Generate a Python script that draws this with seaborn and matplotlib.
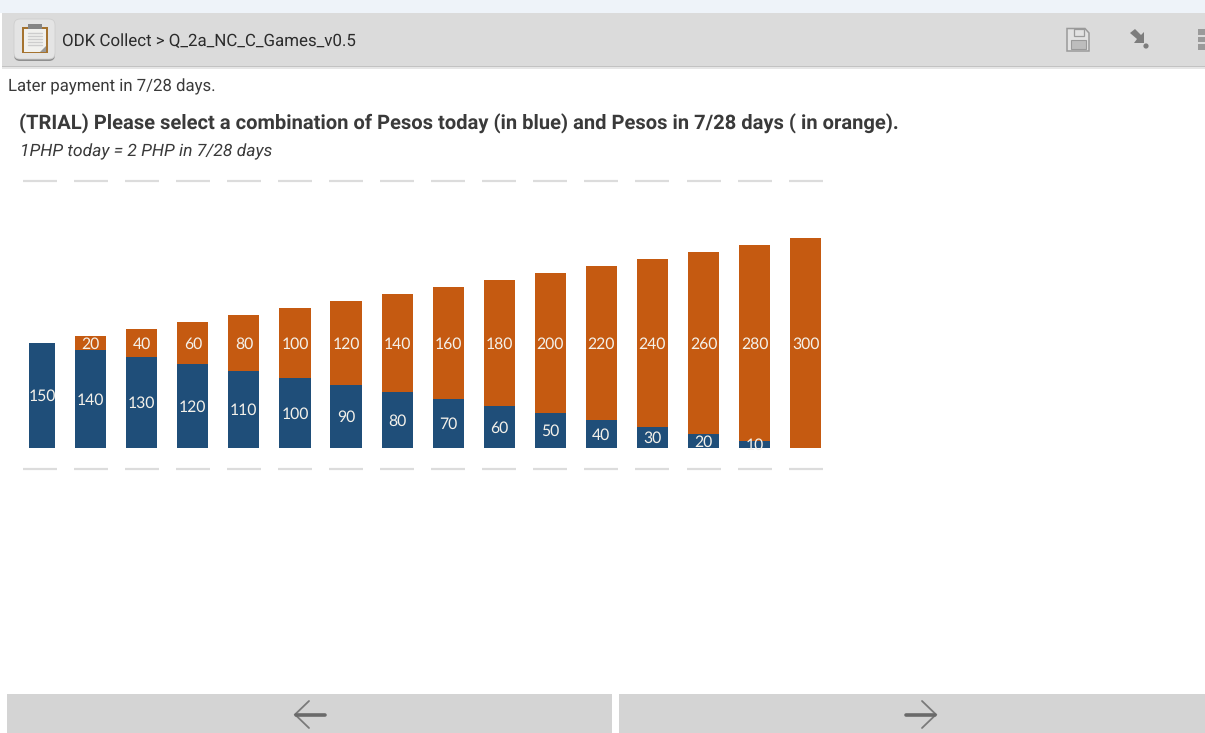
import matplotlib
matplotlib.use("Agg")
import matplotlib.pyplot as plt
from matplotlib.patches import FancyBboxPatch, Rectangle, Polygon, Circle
import numpy as np
import seaborn as sns

# Pesos today / pesos later for each option on the screen
option_ids = list(range(16))
pesos_today = [150, 140, 130, 120, 110, 100, 90, 80, 70, 60, 50, 40, 30, 20, 10, 0]
pesos_later = [0, 20, 40, 60, 80, 100, 120, 140, 160, 180, 200, 220, 240, 260, 280, 300]

BLUE = "#1f4e79"
ORANGE = "#c55a11"
LABEL = "#f4f1ea"
GRID = "#dcdcdc"
TEXT = "#3a3a3a"

W, H = 1205, 733
sns.set_theme(style="white")
plt.rcParams["font.family"] = ["Roboto", "DejaVu Sans"]
plt.rcParams["text.hinting"] = "no_hinting"

fig = plt.figure(figsize=(W / 100, H / 100), dpi=100, facecolor="white")

# Full-figure layer in pixel units for the app screen furniture
ui = fig.add_axes([0, 0, 1, 1], zorder=0)
ui.set_xlim(0, W)
ui.set_ylim(H, 0)
ui.set_axis_off()

ui.add_patch(Rectangle((0, 0), W, 13, color="#eef3f9", lw=0))
ui.add_patch(Rectangle((2, 13), W - 2, 53, color="#dbdbdb", lw=0))
ui.add_patch(Rectangle((2, 65.5), W - 2, 1.5, color="#c2c2c2", lw=0))
ui.add_patch(Rectangle((2, 67), W - 2, 1.5, color="#e6e6e6", lw=0))

# App icon: rounded tile with a clipboard
ui.add_patch(FancyBboxPatch((14, 22), 41, 39, boxstyle="round,pad=0,rounding_size=6",
                            fc="#8f8f8f", ec="none"))
ui.add_patch(FancyBboxPatch((14, 19), 41, 40, boxstyle="round,pad=0,rounding_size=6",
                            fc="#e4e4e4", ec="#cfcfcf", lw=0.6))
ui.add_patch(Rectangle((22, 26.5), 26, 26.5, fc="#a5732f", ec="none"))
ui.add_patch(Rectangle((24, 29), 22, 22.5, fc="#f1f1ee", ec="none"))
ui.add_patch(Rectangle((28, 23.5), 14, 5, fc="#858585", ec="none"))
ui.add_patch(Polygon([(40, 51.5), (46, 51.5), (46, 46)], closed=True, fc="#9a9a9a", ec="none"))
for y in (33, 36, 39, 42, 45):
    ui.plot([28, 42], [y, y], color="#cdcdcd", lw=1)

ui.text(62, 41, "ODK Collect > Q_2a_NC_C_Games_v0.5", fontsize=12.2, color="#2b2b2b",
        va="center", ha="left")

# Save icon
ui.add_patch(Polygon([(1067, 28.5), (1085, 28.5), (1089, 33), (1089, 51), (1067, 51)],
                     closed=True, fc="#e2e2e2", ec="#9a9a9a", lw=1.1))
ui.add_patch(Rectangle((1074, 28.5), 10, 7.5, fc="#e2e2e2", ec="#9a9a9a", lw=0.9))
ui.add_patch(Rectangle((1070.5, 39.5), 15, 9.5, fc="#bdbdbd", ec="#9a9a9a", lw=0.8))

# Send-to-finalize arrow and dot
ui.add_patch(Polygon([(1130, 33), (1135, 29), (1141, 35), (1144, 32), (1144, 43),
                      (1134, 43), (1137, 39)], closed=True, fc="#7d7d7d", ec="none"))
ui.add_patch(Circle((1146, 46), 2.6, fc="#7d7d7d", ec="none"))

# Overflow menu squares
for y in (29, 36.5, 44):
    ui.add_patch(Rectangle((1198, y), 7, 5.5, fc="#9a9a9a", ec="none"))

ui.text(8, 87, "Later payment in 7/28 days.", fontsize=12.05, color=TEXT, va="center", ha="left")
ui.text(19, 124, "(TRIAL) Please select a combination of Pesos today (in blue) and Pesos in 7/28 days ( in orange).",
        fontsize=14.48, fontweight="bold", color=TEXT, va="center", ha="left")
ui.text(19.5, 151.5, "1PHP today = 2 PHP in 7/28 days", fontsize=12.6, fontstyle="italic",
        color=TEXT, va="center", ha="left")

# Bottom navigation buttons
ui.add_patch(Rectangle((7, 694), 604.5, 39, color="#d4d4d4", lw=0))
ui.add_patch(Rectangle((619, 694), 586, 39, color="#d4d4d4", lw=0))
ui.plot([309, 295, 309], [701, 714.5, 728], color="#7a7a7a", lw=1.3, solid_joinstyle="miter")
ui.plot([296, 325], [714.5, 714.5], color="#6a6a6a", lw=2.6)
ui.plot([922, 936, 922], [701, 714.5, 728], color="#7a7a7a", lw=1.3, solid_joinstyle="miter")
ui.plot([906, 935], [714.5, 714.5], color="#6a6a6a", lw=2.6)

# Chart axes: 0.7 px per peso, about 51 px per option, baseline at y=447.5
left_px, right_px, top_px, bottom_px = 14.1, 831.2, 181.5, 469.5
ax = fig.add_axes([left_px / W, 1 - bottom_px / H, (right_px - left_px) / W, (bottom_px - top_px) / H],
                  zorder=1)
ax.patch.set_alpha(0)

sns.barplot(x=option_ids, y=pesos_today, color=BLUE, width=0.61, saturation=1, ax=ax,
            linewidth=0, errorbar=None)
sns.barplot(x=option_ids, y=pesos_later, bottom=pesos_today, color=ORANGE, width=0.61,
            saturation=1, ax=ax, linewidth=0, errorbar=None)

ax.set_xlim(-0.5, 15.5)
ax.set_ylim(-30.7, 380.7)
ax.set_axis_off()

# The first column is trimmed on its left side
first = ax.patches[0]
trim = 4.9 / 51.07
first.set_x(first.get_x() + trim)
first.set_width(first.get_width() - trim)

# Short dashes above and below each column
for level in (-30, 381.4):
    ax.hlines([level] * len(option_ids), np.array(option_ids) - 0.333, np.array(option_ids) + 0.333,
              color=GRID, lw=1.6, clip_on=False)

# Value labels: today centred in its segment, later on a common line
baseline_clip = Rectangle((-0.5, 0), 16, 400, transform=ax.transData)
for i, (today, later) in enumerate(zip(pesos_today, pesos_later)):
    x = i + (trim / 2 if i == 0 else 0)
    if today:
        t = ax.text(x, today / 2 - 1.5, str(today), ha="center", va="center", color=LABEL,
                    fontsize=11.3, family="Lato")
        t.set_clip_path(baseline_clip)
    if later:
        ax.text(x, 147.5, str(later), ha="center", va="center", color=LABEL,
                fontsize=11.3, family="Lato")

fig.savefig("out.png", dpi=100)
